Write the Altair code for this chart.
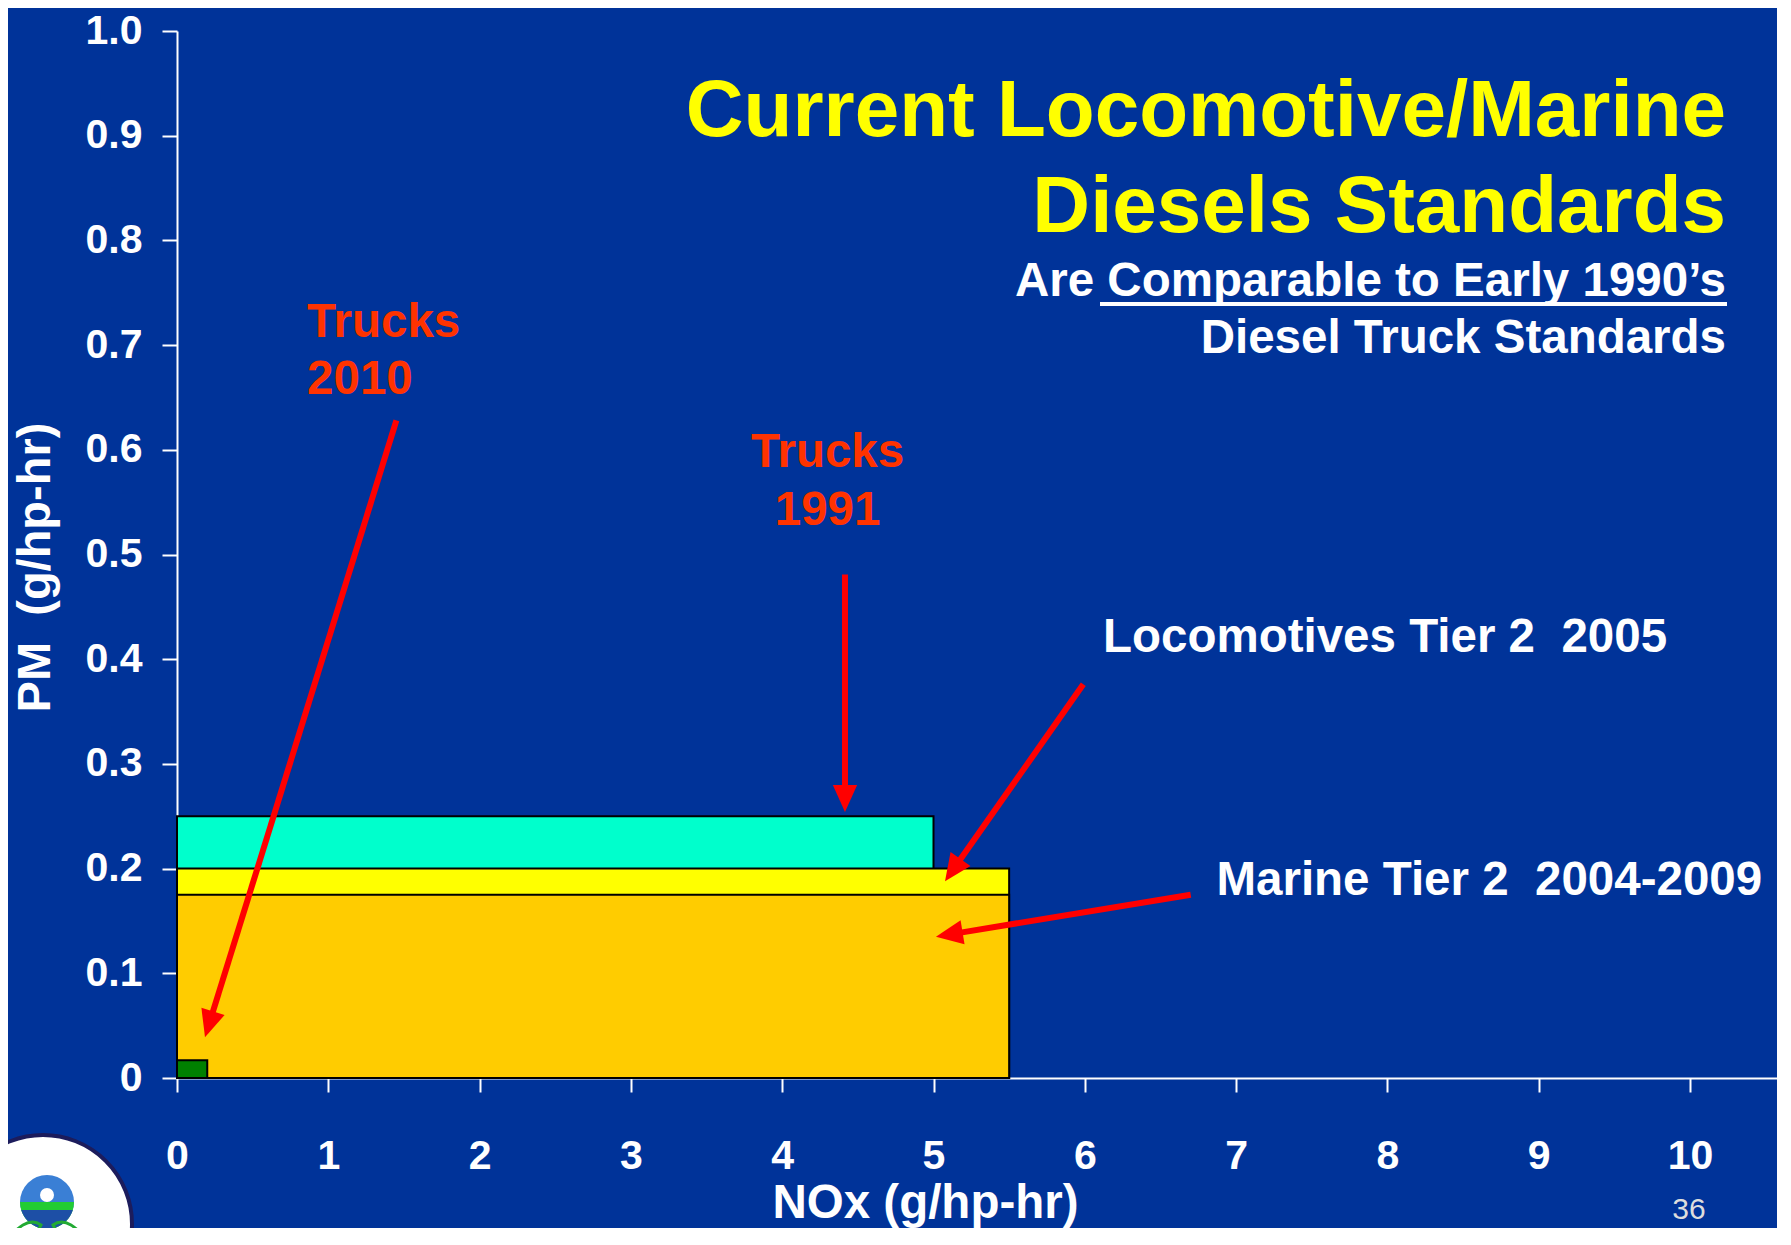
import math
import altair as alt
import pandas as pd

FONT = "Liberation Sans"
BG = "#003399"

# ---------------- data ----------------
box_names = ["Trucks 1991", "Locomotives Tier 2 2005", "Marine Tier 2 2004-2009", "Trucks 2010"]
box_nox = [5.0, 5.5, 5.5, 0.2]
box_pm = [0.25, 0.20, 0.175, 0.017]
box_colors = ["#00FFCC", "#FFFF00", "#FFCC00", "#008000"]

x_ticks = [0, 1, 2, 3, 4, 5, 6, 7, 8, 9, 10]
y_ticks = [0.0, 0.1, 0.2, 0.3, 0.4, 0.5, 0.6, 0.7, 0.8, 0.9, 1.0]

NB = "\u00a0"
note_text = ["Trucks", "2010", "Trucks", "1991",
             "Locomotives Tier 2 " + NB + "2005", "Marine Tier 2 " + NB + "2004-2009"]
note_nox = [0.86, 0.86, 4.30, 4.30, 6.12, 6.87]
note_pm = [0.708, 0.653, 0.584, 0.528, 0.4065, 0.175]
note_color = ["#FF3300", "#FF3300", "#FF3300", "#FF3300", "#FFFFFF", "#FFFFFF"]
note_align = ["left", "left", "center", "center", "left", "left"]

arrow_nox_start = [1.45, 4.415, 5.99, 6.70]
arrow_pm_start = [0.628, 0.481, 0.376, 0.175]
arrow_nox_end = [0.185, 4.415, 5.076, 5.016]
arrow_pm_end = [0.039, 0.254, 0.188, 0.135]

title_lines = ["Current Locomotive/Marine", "Diesels Standards"]
subtitle_lines = ["Are Comparable to Early 1990\u2019s", "Diesel Truck Standards"]
slide_number = "36"

# ---------------- layout ----------------
TOP = 23          # plot top offset inside the svg
PLOT_W = 1600
PLOT_H = 1070 - TOP
DY = TOP - 17     # shift for pixel-placed decorations
X_MAX = 10.575
PX_X = PLOT_W / X_MAX
PX_Y = PLOT_H / 1.0

xs = alt.Scale(domain=[0, X_MAX], nice=False, zero=False)
ys = alt.Scale(domain=[0, 1.0], nice=False, zero=False)

boxes = pd.DataFrame({
    "name": box_names,
    "nox": box_nox,
    "pm": box_pm,
    "x0": [0.0] * len(box_names),
    "y0": [0.0] * len(box_names),
})

x_axis = alt.Axis(
    values=x_ticks, format="d", labelFont=FONT, labelFontSize=41, labelFontWeight="bold",
    labelColor="white", labelBaseline="alphabetic", labelPadding=76, labelFlush=False,
    labelOverlap=False, domainColor="white", domainWidth=2, tickColor="white", tickWidth=2,
    tickSize=14, grid=False, title="NOx (g/hp-hr)", titleFont=FONT, titleFontSize=47.5,
    titleFontWeight="bold", titleColor="white", titleX=748, titleY=139, titleAlign="center",
    titleBaseline="alphabetic",
)
y_axis = alt.Axis(
    values=y_ticks, labelExpr="datum.value == 0 ? '0' : format(datum.value, '.1f')",
    labelFont=FONT, labelFontSize=41, labelFontWeight="bold", labelColor="white",
    labelPadding=20, labelBaseline="middle", labelFlush=False, labelOverlap=False,
    domainColor="white", domainWidth=2, tickColor="white", tickWidth=2, tickSize=15,
    grid=False, title="PM " + NB + "(g/hp-hr)", titleFont=FONT, titleFontSize=47,
    titleFontWeight="bold", titleColor="white", titleX=-142, titleY=542 - DY,
    titleAlign="center", titleBaseline="middle", titleAngle=270,
)


def X(field):
    return alt.X(field, scale=xs, axis=x_axis)


def Y(field):
    return alt.Y(field, scale=ys, axis=y_axis)


rects = alt.Chart(boxes).mark_rect(stroke="black", strokeWidth=2).encode(
    x=X("x0:Q"),
    x2="nox:Q",
    y=Y("y0:Q"),
    y2="pm:Q",
    color=alt.Color("name:N", scale=alt.Scale(domain=box_names, range=box_colors), legend=None),
)

# arrows
HEAD = 27
rows = []
for xs0, ys0, xe, ye in zip(arrow_nox_start, arrow_pm_start, arrow_nox_end, arrow_pm_end):
    dx = (xe - xs0) * PX_X
    dy = -(ye - ys0) * PX_Y
    L = math.hypot(dx, dy)
    ang = math.degrees(math.atan2(dx, -dy)) % 360
    f = (L - HEAD * 0.7) / L
    rows.append({
        "xs": xs0, "ys": ys0,
        "xl": xs0 + (xe - xs0) * f, "yl": ys0 + (ye - ys0) * f,
        "xe": xe, "ye": ye, "ang": ang,
    })
arrows = pd.DataFrame(rows)

arrow_lines = alt.Chart(arrows).mark_rule(color="#FF0000", strokeWidth=6, strokeCap="butt").encode(
    x=X("xs:Q"), y=Y("ys:Q"), x2="xl:Q", y2="yl:Q",
)
arrow_heads = alt.Chart(arrows).mark_point(
    shape="M0,0L-0.45,1L0.45,1Z", filled=True, color="#FF0000", opacity=1,
    size=(2 * HEAD) ** 2, strokeWidth=0,
).encode(
    x=X("xe:Q"), y=Y("ye:Q"),
    angle=alt.Angle("ang:Q", scale=None),
)

notes = pd.DataFrame({"t": note_text, "nox": note_nox, "pm": note_pm,
                      "c": note_color, "a": note_align})


def note_layer(al):
    return alt.Chart(notes).transform_filter(alt.datum.a == al).mark_text(
        font=FONT, fontWeight="bold", fontSize=47.5, baseline="alphabetic", align=al,
    ).encode(
        x=X("nox:Q"), y=Y("pm:Q"),
        text="t:N", color=alt.Color("c:N", scale=None),
    )


def one(text):
    return alt.Chart(pd.DataFrame({"t": [text]}))


layers = [rects, arrow_lines, arrow_heads, note_layer("left"), note_layer("center")]

# Title block
for txt, yb in zip(title_lines, [111, 207]):
    layers.append(one(txt).mark_text(font=FONT, fontWeight="bold", fontSize=80, color="#FFFF00",
                                     align="right", baseline="alphabetic").encode(
        x=alt.value(1549), y=alt.value(yb - DY), text="t:N"))
for txt, yb in zip(subtitle_lines, [271, 328]):
    layers.append(one(txt).mark_text(font=FONT, fontWeight="bold", fontSize=47.5, color="white",
                                     align="right", baseline="alphabetic").encode(
        x=alt.value(1549), y=alt.value(yb - DY), text="t:N"))
layers.append(one("u").mark_rule(color="white", strokeWidth=4).encode(
    x=alt.value(923), x2=alt.value(1550), y=alt.value(279 - DY)))

# slide number
layers.append(one(slide_number).mark_text(font=FONT, fontSize=30, color="#DDDDDD",
                                          align="center", baseline="alphabetic").encode(
    x=alt.value(1512), y=alt.value(1194 - DY), text="t:N"))

# EPA seal (decoration); Vega circle symbols have diameter sqrt(size)
layers.append(one("seal").mark_point(shape="circle", filled=True, fill="white", stroke="#1c1c5c",
                                     strokeWidth=4, opacity=1, size=(2 * 89) ** 2).encode(
    x=alt.value(-134), y=alt.value(1199 - DY)))
layers.append(one("inner").mark_point(shape="circle", filled=True, color="#3a7fd5", opacity=1,
                                      size=(2 * 27) ** 2).encode(
    x=alt.value(-130), y=alt.value(1177 - DY)))
layers.append(one("green").mark_point(shape="M-1,0A1,1 0 0 0 1,0Z", filled=True, color="#22cc33",
                                      opacity=1, size=54 ** 2).encode(
    x=alt.value(-130), y=alt.value(1177 - DY)))
layers.append(one("water").mark_point(shape="M-0.954,0.3A1,1 0 0 0 0.954,0.3Z", filled=True,
                                      color="#1d4fa6", opacity=1, size=54 ** 2).encode(
    x=alt.value(-130), y=alt.value(1177 - DY)))
layers.append(one("sun").mark_point(shape="circle", filled=True, color="white", opacity=1,
                                    size=14 ** 2).encode(
    x=alt.value(-130), y=alt.value(1170 - DY)))
layers.append(one("leafL").mark_point(shape="M1,-0.6Q0.2,-1.2 -1,0.6Q0.1,1 1,-0.6Z", filled=False,
                                      color="#22aa33", strokeWidth=3, opacity=1, size=40 ** 2).encode(
    x=alt.value(-156), y=alt.value(1212 - DY)))
layers.append(one("leafR").mark_point(shape="M-1,-0.6Q-0.2,-1.2 1,0.6Q-0.1,1 -1,-0.6Z", filled=False,
                                      color="#22aa33", strokeWidth=3, opacity=1, size=40 ** 2).encode(
    x=alt.value(-104), y=alt.value(1212 - DY)))

chart = alt.layer(*layers).properties(
    width=PLOT_W, height=PLOT_H, background=BG,
    autosize=alt.AutoSizeParams(type="none"),
    padding={"left": 169, "top": TOP, "right": 0, "bottom": 150},
).configure_view(stroke=None)

chart.save("out.html", embed_options={"renderer": "svg", "actions": False})
